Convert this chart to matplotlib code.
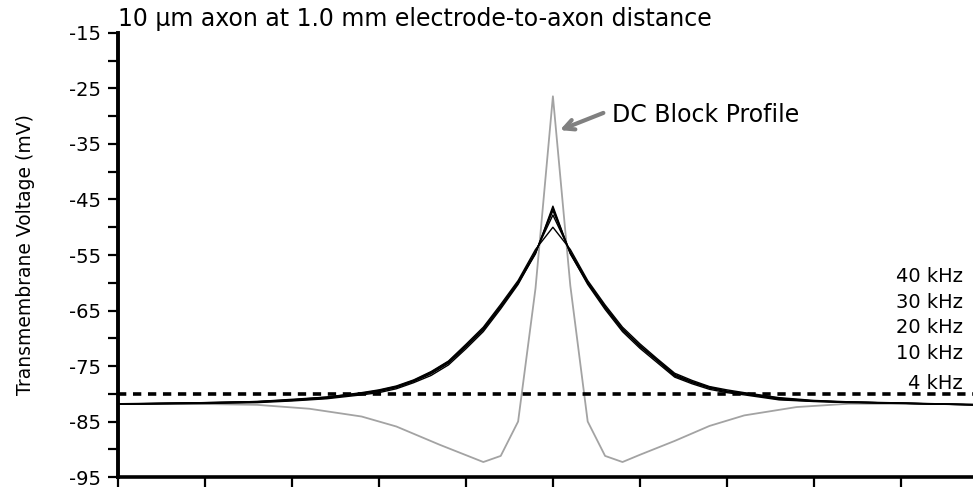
import matplotlib
matplotlib.use("Agg")
import matplotlib.pyplot as plt

plt.rcParams['font.family'] = ['DejaVu Sans']
plt.rcParams['axes.unicode_minus'] = False

# Position along the axon (arbitrary units, stimulating electrode at 0)
x_nodes = [-5.0, -4.0, -3.4, -3.0, -2.6, -2.2, -2.0, -1.8, -1.6, -1.4, -1.2,
           -1.0, -0.8, -0.6, -0.4, -0.2, 0.0, 0.2, 0.4, 0.6, 0.8, 1.0, 1.2,
           1.4, 1.6, 1.8, 2.0, 2.2, 2.6, 3.0, 3.4, 4.0, 4.83]

# KHFAC block profiles (mV)
v_4khz = [-81.85, -81.7, -81.5, -81.2, -80.8, -80.0, -79.6, -78.9, -77.8, -76.4, -74.5,
          -71.6, -68.5, -64.4, -60.1, -54.8, -46.2, -54.8, -60.1, -64.5, -68.5, -71.5, -74.1,
          -76.8, -78.0, -79.0, -79.6, -80.0, -81.0, -81.35, -81.5, -81.7, -82.0]
v_10khz = [-81.85, -81.6, -81.4, -81.1, -80.6, -79.9, -79.4, -78.7, -77.6, -76.1, -74.2,
           -71.3, -68.2, -64.2, -59.9, -54.6, -46.6, -54.6, -59.9, -64.3, -68.3, -71.3, -73.9,
           -76.5, -77.8, -78.8, -79.5, -79.9, -80.8, -81.3, -81.5, -81.7, -81.95]
v_20khz = [-81.9, -81.75, -81.6, -81.3, -80.9, -80.2, -79.8, -79.1, -78.0, -76.7, -74.8,
           -71.9, -68.8, -64.7, -60.3, -54.6, -47.0, -54.7, -60.3, -64.8, -68.8, -71.8, -74.4,
           -77.0, -78.2, -79.2, -79.8, -80.2, -81.1, -81.4, -81.6, -81.75, -82.0]
v_30khz = [-81.85, -81.65, -81.45, -81.15, -80.7, -80.0, -79.5, -78.8, -77.7, -76.3, -74.4,
           -71.5, -68.4, -64.3, -59.9, -54.4, -47.8, -54.4, -59.9, -64.4, -68.4, -71.4, -74.0,
           -76.7, -77.9, -78.9, -79.6, -80.0, -80.9, -81.3, -81.5, -81.7, -82.0]
v_40khz = [-81.8, -81.6, -81.4, -81.0, -80.6, -79.8, -79.3, -78.6, -77.5, -76.0, -74.1,
           -71.1, -68.0, -63.9, -59.6, -54.0, -50.0, -54.0, -59.6, -64.0, -68.0, -71.0, -73.7,
           -76.3, -77.6, -78.7, -79.3, -79.8, -80.7, -81.2, -81.45, -81.65, -81.95]

# DC block profile (mV)
x_dc = [-5.0, -4.0, -3.4, -2.8, -2.2, -1.8, -1.3, -0.8, -0.6, -0.4, -0.2, 0.0,
        0.2, 0.4, 0.6, 0.8, 1.0, 1.4, 1.8, 2.2, 2.8, 3.4, 4.0, 4.83]
v_dc = [-81.85, -81.85, -82.0, -82.7, -84.1, -85.9, -89.2, -92.3, -91.2, -85.0, -61.0, -26.4,
        -60.5, -85.0, -91.2, -92.3, -91.0, -88.5, -85.8, -83.9, -82.4, -81.8, -81.8, -81.9]

threshold = -80.0
freq_labels = ['40 kHz', '30 kHz', '20 kHz', '10 kHz', '4 kHz']
label_y = [-58.8, -63.6, -68.1, -72.7, -78.2]

fig = plt.figure(figsize=(9.73, 4.91), dpi=100)
ax = fig.add_axes([0.1213, 0.0285, 0.8787, 0.9043])

ax.plot(x_dc, v_dc, color='#a3a3a3', lw=1.3, zorder=2)
for v in [v_4khz, v_10khz, v_20khz, v_30khz, v_40khz]:
    ax.plot(x_nodes, v, color='black', lw=1.0, zorder=3)
ax.axhline(threshold, color='black', lw=2.6, ls=(0, (2.3, 1.85)), zorder=4)

for lab, y in zip(freq_labels, label_y):
    ax.text(4.71, y, lab, ha='right', va='center', fontsize=14)

ax.annotate('', xy=(0.08, -32.5), xytext=(0.58, -29.4),
            arrowprops=dict(arrowstyle='->', color='#808080', lw=3,
                            mutation_scale=18, shrinkA=0, shrinkB=0))
ax.text(0.68, -29.8, 'DC Block Profile', ha='left', va='center', fontsize=17)

ax.set_xlim(-5, 4.83)
ax.set_ylim(-95, -15)
ax.set_xticks(range(-5, 5))
ax.set_xticklabels([])
ax.set_yticks(range(-95, -14, 10))
ax.set_yticks(range(-90, -15, 10), minor=True)
ax.tick_params(axis='both', which='both', direction='out', length=7, width=1.6)
ax.tick_params(axis='y', labelsize=14, pad=5)

for s in ['top', 'right']:
    ax.spines[s].set_visible(False)
ax.spines['left'].set_linewidth(2.8)
ax.spines['bottom'].set_linewidth(2.6)

ax.set_ylabel('Transmembrane Voltage (mV)', fontsize=13.5)
ax.yaxis.set_label_coords(-0.097, 0.5)
ax.set_title('10 \u00b5m axon at 1.0 mm electrode-to-axon distance', loc='left',
             fontsize=17, pad=5)

fig.savefig('out.png', dpi=100)
